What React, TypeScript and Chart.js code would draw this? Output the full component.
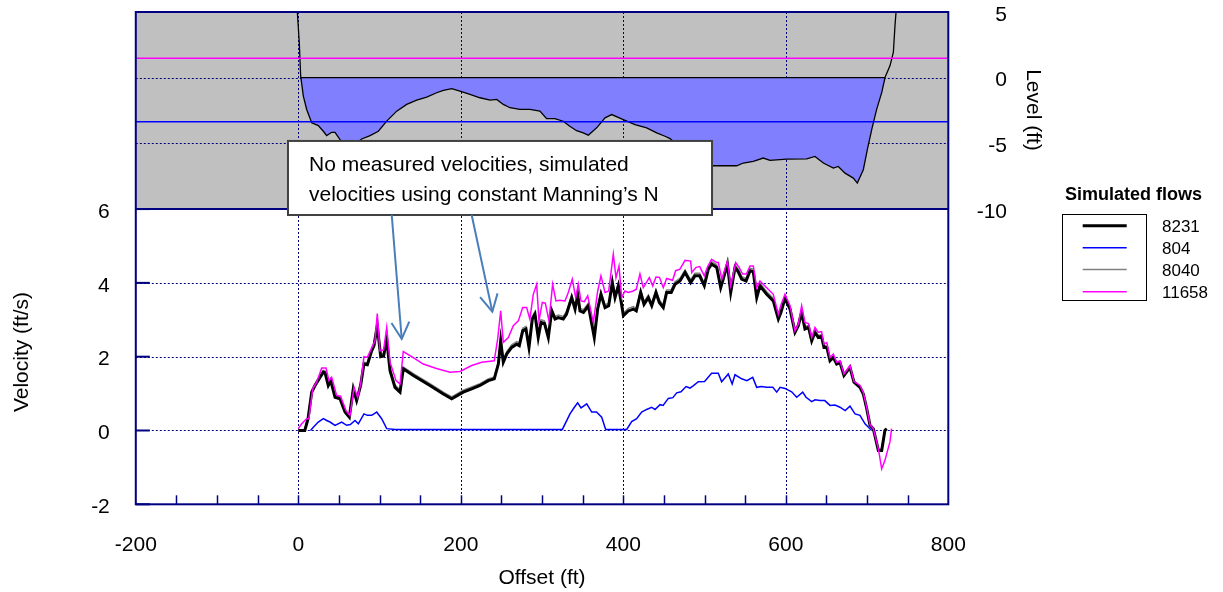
import React, { useEffect, useRef } from 'react';
import { Chart, registerables } from 'chart.js';

Chart.register(...registerables);

const FONT = '"Liberation Sans", Arial, Helvetica, sans-serif';
const NAVY = '#000080';

// ---- axes ----
const X_RANGE = [-200, 800];
const X_TICKS = [-200, 0, 200, 400, 600, 800];
const X_GRID = [0, 200, 400, 600];
const X_MINOR = [-150, -100, -50, 0, 50, 100, 150, 200, 250, 300, 350, 400, 450, 500, 550, 600, 650, 700, 750];
const VEL_RANGE = [-2, 11.34];
const VEL_TICKS = [-2, 0, 2, 4, 6];
const VEL_GRID = [0, 2, 4];
const LEVEL_RANGE = [-32.49, 5];
const LEVEL_TICKS = [-10, -5, 0, 5];
const LEVEL_GRID = [-5, 0];

// ---- velocity series (Offset ft, Velocity ft/s) ----
const X_8231 = [0, 8, 12, 16.5, 20.6, 26.7, 30.8, 33, 36.9, 39.9, 45.2, 51.3, 57.5, 62.8, 67.7, 71.8, 76.7, 80.8, 85, 90.3, 93.2, 97.2, 101.4, 105, 108.8, 112.9, 119, 125.2, 129.2, 141.6, 162, 178.5, 188.8, 203, 213.4, 223.6, 233.8, 241.2, 246.2, 249.1, 252.3, 256.5, 262.6, 268.7, 272, 276.2, 280.2, 283.9, 288, 291.3, 295.3, 298.7, 303, 307.7, 311.9, 316, 320, 326.1, 330, 336.5, 340.6, 343.8, 346.7, 351, 357, 364.3, 368.5, 372.5, 377.5, 382, 386.5, 389.8, 393.9, 397.2, 400.1, 406.2, 412.3, 416, 421.4, 425.5, 430.8, 435, 440.2, 444.3, 449.2, 453.3, 459, 463.6, 469.7, 476, 482.9, 488.2, 494, 499.7, 504.6, 508.7, 515, 519.9, 523, 528.1, 532.2, 537.5, 541.5, 545.7, 551.1, 556, 560, 564.2, 568.2, 576.5, 584.6, 590.8, 594, 599, 605.2, 611.3, 615.4, 619.5, 623.6, 628, 631.9, 635.9, 640, 644, 647, 650.5, 654.4, 658.5, 662.6, 666.7, 671.6, 679, 683.9, 691.3, 695.4, 699.6, 703.6, 707.7, 713.9, 718, 722, 724.1];
const V_8231 = [0, 0, 0.32, 1.04, 1.22, 1.44, 1.58, 1.56, 1.22, 1.35, 0.9, 0.86, 0.5, 0.36, 1.13, 0.81, 1.22, 1.8, 1.78, 2.16, 2.3, 2.84, 2.0, 2.02, 2.48, 1.62, 1.17, 1.04, 1.67, 1.49, 1.22, 0.99, 0.86, 1.04, 1.13, 1.22, 1.35, 1.4, 1.8, 2.43, 1.85, 2.07, 2.25, 2.34, 2.3, 2.7, 2.75, 2.25, 3.02, 3.15, 2.52, 2.93, 2.9, 2.52, 3.24, 3.02, 3.06, 3.02, 3.15, 3.6, 3.29, 3.69, 3.24, 3.2, 3.38, 2.52, 3.3, 3.69, 3.33, 3.38, 4.01, 3.6, 3.92, 3.51, 3.11, 3.24, 3.29, 3.24, 3.74, 3.42, 3.6, 3.38, 3.74, 3.47, 3.33, 3.74, 3.74, 3.96, 4.05, 4.28, 4.01, 4.19, 4.19, 3.92, 4.37, 4.51, 4.42, 3.87, 4.1, 4.51, 3.74, 4.42, 4.3, 4.1, 4.05, 4.33, 4.3, 3.6, 3.92, 3.69, 3.51, 3.02, 3.2, 3.58, 3.29, 2.66, 2.84, 3.2, 2.75, 2.8, 2.43, 2.66, 2.52, 2.55, 2.25, 2.25, 1.89, 1.98, 1.8, 1.84, 1.49, 1.71, 1.31, 1.17, 0.99, 0.59, 0.14, 0.05, -0.54, -0.54, 0, 0.05];
const V_8040 = [0.02, 0.02, 0.36, 1.08, 1.27, 1.49, 1.63, 1.61, 1.27, 1.4, 0.95, 0.9, 0.54, 0.4, 1.18, 0.85, 1.27, 1.85, 1.83, 2.21, 2.35, 2.9, 2.06, 2.08, 2.54, 1.68, 1.23, 1.1, 1.72, 1.54, 1.27, 1.04, 0.91, 1.09, 1.18, 1.27, 1.4, 1.45, 1.86, 2.5, 1.92, 2.14, 2.32, 2.41, 2.37, 2.77, 2.82, 2.32, 3.09, 3.22, 2.59, 3.0, 2.97, 2.59, 3.31, 3.09, 3.13, 3.09, 3.22, 3.67, 3.36, 3.76, 3.31, 3.27, 3.45, 2.59, 3.37, 3.76, 3.4, 3.45, 4.08, 3.67, 3.99, 3.58, 3.18, 3.31, 3.36, 3.31, 3.81, 3.49, 3.67, 3.45, 3.81, 3.54, 3.4, 3.81, 3.81, 4.03, 4.12, 4.35, 4.08, 4.26, 4.26, 3.99, 4.44, 4.58, 4.49, 3.94, 4.17, 4.58, 3.81, 4.49, 4.37, 4.17, 4.12, 4.4, 4.37, 3.67, 3.99, 3.76, 3.58, 3.09, 3.27, 3.64, 3.35, 2.72, 2.9, 3.26, 2.81, 2.85, 2.48, 2.71, 2.57, 2.6, 2.3, 2.29, 1.93, 2.02, 1.84, 1.87, 1.52, 1.74, 1.33, 1.19, 1.01, 0.61, 0.16, 0.06, -0.52, -0.5, 0.02, 0.06];
const X_11658 = [0, 4.2, 10.3, 13, 17.7, 22.6, 28.8, 34.1, 37.8, 41.1, 47.2, 52, 58.7, 63.6, 68.6, 73.1, 76.7, 80.8, 85, 91.6, 94.4, 97.2, 100.5, 105, 108.8, 112.9, 120.3, 125.2, 129.2, 141, 153.8, 170, 186.7, 199, 213.4, 225.7, 241.2, 245.4, 249.1, 252.3, 258.5, 264.6, 270.8, 276.2, 281, 285, 289.2, 293.4, 296.2, 300.3, 304, 308.5, 313, 317.1, 322, 328.2, 332.3, 337.2, 341.4, 344.6, 347.9, 352, 356.2, 363.1, 368.5, 372.5, 377.5, 382, 387.7, 391, 394.7, 398, 402, 406, 412.3, 416, 420.5, 424.6, 432, 436.2, 440.2, 444.5, 449.2, 453.3, 460.7, 464.4, 469.7, 476, 482.9, 484.2, 489.5, 494, 499.7, 503.4, 508.7, 515, 517, 521.2, 528.1, 532.2, 538.3, 542.5, 546.9, 551.5, 556, 560, 564.2, 568.2, 576.5, 584.6, 590.8, 594, 599, 605.2, 611.3, 615.4, 619.5, 623.6, 628, 631.9, 635.9, 640, 644, 647, 650.5, 654.4, 658.5, 662.6, 666.7, 671.6, 679, 683.9, 691.3, 695.4, 699.6, 703.6, 707.7, 713.9, 718, 722, 728.2, 730.2];
const V_11658 = [0.05, 0.18, 0.32, 0.32, 1.13, 1.31, 1.69, 1.69, 1.35, 1.44, 0.95, 0.93, 0.54, 0.41, 1.17, 0.9, 1.25, 2.0, 1.98, 2.3, 2.43, 3.17, 2.16, 2.18, 2.79, 1.85, 1.35, 1.26, 2.14, 1.98, 1.8, 1.68, 1.58, 1.6, 1.76, 1.85, 1.89, 2.48, 3.24, 2.39, 2.52, 2.84, 2.97, 3.33, 3.33, 3.02, 3.69, 3.96, 2.97, 3.47, 3.45, 2.97, 3.96, 3.51, 3.53, 3.51, 3.74, 4.1, 3.6, 3.96, 3.51, 3.49, 3.65, 2.93, 3.78, 4.19, 3.74, 3.78, 4.78, 4.14, 4.46, 3.6, 3.78, 3.74, 3.78, 3.83, 4.24, 3.87, 4.14, 3.92, 4.16, 4.15, 3.87, 4.12, 4.07, 4.33, 4.37, 4.61, 4.59, 4.28, 4.42, 4.44, 4.19, 4.42, 4.64, 4.55, 4.55, 4.1, 4.59, 3.92, 4.55, 4.42, 4.24, 4.24, 4.46, 4.46, 3.87, 4.05, 3.87, 3.69, 3.15, 3.4, 3.69, 3.38, 2.7, 2.88, 3.38, 2.93, 2.9, 2.52, 2.79, 2.66, 2.68, 2.34, 2.38, 1.98, 2.07, 1.85, 1.89, 1.53, 1.76, 1.33, 1.22, 1.03, 0.62, 0.16, 0.05, -0.49, -1.04, -0.81, -0.31, 0.05];
const X_804 = [15, 18.5, 24.6, 30.8, 35, 39, 45.2, 53.4, 59.5, 64, 69.8, 73.9, 80.8, 85, 90.3, 96.5, 102.6, 108.8, 120, 200, 280, 325, 334.4, 339.8, 343.8, 348, 355, 361.1, 367, 373.4, 378.3, 390, 404.2, 410.3, 416.4, 422.6, 428.7, 434.9, 439, 445.2, 449, 455.4, 461, 465.7, 471, 477.2, 482, 486, 492.3, 500, 508.7, 516.9, 521, 529.2, 534, 537.5, 545.7, 552, 559.3, 564.2, 570, 576.5, 584, 588.8, 593, 599, 607.2, 613.4, 620.8, 624.9, 631.9, 636, 642.1, 648, 654.4, 660.5, 666.7, 673, 679, 685.2, 691.3, 697.5, 701.7, 705.7];
const V_804 = [0, 0.09, 0.23, 0.32, 0.27, 0.23, 0.14, 0.23, 0.14, 0.16, 0.27, 0.18, 0.45, 0.41, 0.41, 0.5, 0.32, 0.05, 0.03, 0.03, 0.03, 0.03, 0.45, 0.63, 0.75, 0.61, 0.72, 0.5, 0.5, 0.36, 0.03, 0.03, 0.03, 0.24, 0.32, 0.5, 0.57, 0.63, 0.57, 0.7, 0.68, 0.87, 0.89, 1.02, 1.05, 1.19, 1.15, 1.21, 1.32, 1.33, 1.55, 1.55, 1.32, 1.53, 1.26, 1.51, 1.4, 1.35, 1.44, 1.17, 1.19, 1.17, 1.17, 1.04, 1.17, 1.14, 1.05, 0.9, 1.04, 0.9, 0.78, 0.83, 0.81, 0.81, 0.68, 0.69, 0.63, 0.54, 0.66, 0.45, 0.41, 0.18, 0.09, 0];

// ---- cross-section (Offset ft, Level ft) ----
const BED_X = [-1.6, -1.2, 1.2, 2.9, 6.2, 10.3, 16.5, 24.6, 30.8, 34.9, 41.1, 45.2, 51.3, 60, 70, 78, 88.3, 98.5, 108.8, 121.1, 133.4, 145.7, 158, 170.3, 178.5, 188.8, 199, 211.3, 223.6, 236, 244.2, 252.3, 260.5, 272.8, 285.1, 297.4, 305.6, 315.8, 326, 334.2, 342.5, 350.7, 356.9, 367.2, 377.5, 385.7, 400, 414.4, 428.8, 441.1, 451.3, 457.5, 470, 490, 505, 510.7, 539.5, 547.7, 560, 572.3, 580.5, 601, 625.7, 635.9, 646.2, 658.5, 664.6, 672.9, 683.1, 688, 695.4, 700.4, 705.8, 711.9, 718.1, 722.2, 728.3, 732.4, 734.4, 735.7, 736.5];
const BED_LEVEL = [6, 5, 2.68, 0.13, -1.4, -2.42, -3.44, -3.65, -4.08, -4.41, -4.16, -4.16, -4.72, -5.15, -5.05, -4.67, -4.41, -4.08, -3.31, -2.55, -2.04, -1.71, -1.48, -1.15, -0.97, -0.84, -1.03, -1.28, -1.53, -1.71, -1.66, -2.04, -2.29, -2.42, -2.42, -2.55, -3.12, -3.12, -3.32, -3.7, -4.04, -4.21, -4.38, -3.82, -3.06, -2.81, -3.19, -3.57, -3.82, -4.21, -4.46, -4.64, -5.3, -6.1, -6.6, -6.71, -6.71, -6.5, -6.38, -6.12, -6.3, -6.2, -6.18, -6.0, -6.5, -6.89, -6.76, -7.27, -7.65, -8.03, -7.01, -5.47, -3.94, -2.4, -1.12, 0.03, 0.92, 1.94, 3.98, 5, 6];
const WATER_X = [2.9, 722.2];
const WATER_LEVEL = [0, 0];
const STAGE_X = [-200, 800];
const STAGE_11658 = [1.48, 1.48];
const STAGE_804 = [-3.36, -3.36];

// ---- text ----
const FLOW_LABELS = ['8231', '804', '8040', '11658'];
const FLOW_COLORS = ['#000000', '#0000FF', '#808080', '#FF00FF'];
const FLOW_WIDTHS = [3, 1.5, 1.5, 1.5];
const LEGEND_TITLE = 'Simulated flows';
const X_TITLE = 'Offset (ft)';
const Y_TITLE = 'Velocity (ft/s)';
const Y2_TITLE = 'Level (ft)';
const NOTE_LINES = ['No measured velocities, simulated', 'velocities using constant Manning\u2019s N'];
// note box corners (Offset ft, Level ft); arrow tips (Offset ft, Velocity ft/s)
const NOTE_BOX = { x0: -12.7, x1: 509.2, top: -4.82, bottom: -10.46 };
const ARROW_TAIL_X = [115, 213.4];
const ARROW_TIP_X = [127.3, 238.8];
const ARROW_TIP_V = [2.48, 3.22];

const pts = (xs: number[], ys: number[]) => xs.map((x, i) => ({ x, y: ys[i] }));

const seg = (ctx: CanvasRenderingContext2D, x1: number, y1: number, x2: number, y2: number) => {
  ctx.beginPath();
  ctx.moveTo(x1, y1);
  ctx.lineTo(x2, y2);
  ctx.stroke();
};

const decorPlugin = {
  id: 'decor',
  beforeDraw(chart: any) {
    const { ctx, chartArea: a, scales } = chart;
    const yTop = scales.y2.getPixelForValue(LEVEL_TICKS[LEVEL_TICKS.length - 1]);
    const yBot = scales.y2.getPixelForValue(LEVEL_TICKS[0]);
    ctx.save();
    ctx.fillStyle = '#C0C0C0';
    ctx.fillRect(a.left, yTop, a.right - a.left, yBot - yTop);
    ctx.restore();
  },
  beforeDatasetsDraw(chart: any) {
    const { ctx, chartArea: a, scales } = chart;
    ctx.save();
    ctx.strokeStyle = NAVY;
    ctx.lineWidth = 1;
    ctx.setLineDash([2, 2]);
    ctx.beginPath();
    for (const v of X_GRID) {
      const x = Math.round(scales.x.getPixelForValue(v)) + 0.5;
      ctx.moveTo(x, a.top);
      ctx.lineTo(x, a.bottom);
    }
    for (const v of VEL_GRID) {
      const y = Math.round(scales.y.getPixelForValue(v)) + 0.5;
      ctx.moveTo(a.left, y);
      ctx.lineTo(a.right, y);
    }
    for (const v of LEVEL_GRID) {
      const y = Math.round(scales.y2.getPixelForValue(v)) + 0.5;
      ctx.moveTo(a.left, y);
      ctx.lineTo(a.right, y);
    }
    ctx.stroke();
    ctx.restore();
  },
  afterDraw(chart: any) {
    const { ctx, chartArea: a, scales } = chart;
    ctx.save();
    ctx.setLineDash([]);
    // frame and band boundary
    ctx.strokeStyle = NAVY;
    ctx.lineWidth = 2;
    ctx.strokeRect(a.left, a.top, a.right - a.left, a.bottom - a.top);
    const yBand = scales.y.getPixelForValue(VEL_TICKS[VEL_TICKS.length - 1]);
    seg(ctx, a.left, yBand, a.right, yBand);
    // inner ticks
    for (const v of VEL_TICKS) {
      const y = scales.y.getPixelForValue(v);
      seg(ctx, a.left, y, a.left + 14, y);
    }
    ctx.lineWidth = 1.5;
    for (const v of X_MINOR) {
      const x = Math.round(scales.x.getPixelForValue(v)) + 0.5;
      seg(ctx, x, a.bottom, x, a.bottom - 9);
    }

    // axis titles
    ctx.fillStyle = '#000';
    ctx.font = `21px ${FONT}`;
    ctx.textAlign = 'center';
    ctx.textBaseline = 'middle';
    ctx.fillText(X_TITLE, (a.left + a.right) / 2, 578);
    ctx.save();
    ctx.translate(22.5, 352);
    ctx.rotate(-Math.PI / 2);
    ctx.fillText(Y_TITLE, 0, 0);
    ctx.restore();
    ctx.save();
    ctx.translate(1033, 110);
    ctx.rotate(Math.PI / 2);
    ctx.fillText(Y2_TITLE, 0, 0);
    ctx.restore();

    // legend
    ctx.font = `bold 18px ${FONT}`;
    ctx.fillText(LEGEND_TITLE, 1133.5, 195);
    ctx.strokeStyle = '#000';
    ctx.lineWidth = 1;
    ctx.strokeRect(1062.5, 214.5, 84, 86);
    ctx.font = `17px ${FONT}`;
    ctx.textAlign = 'left';
    const rows = [225.7, 247.7, 269.5, 291.7];
    FLOW_LABELS.forEach((lab, i) => {
      ctx.strokeStyle = FLOW_COLORS[i];
      ctx.lineWidth = FLOW_WIDTHS[i];
      seg(ctx, 1082.7, rows[i], 1126.7, rows[i]);
      ctx.fillStyle = '#000';
      ctx.fillText(lab, 1162, rows[i] + 1.5);
    });

    // note box
    const bx0 = scales.x.getPixelForValue(NOTE_BOX.x0);
    const bx1 = scales.x.getPixelForValue(NOTE_BOX.x1);
    const by0 = scales.y2.getPixelForValue(NOTE_BOX.top);
    const by1 = scales.y2.getPixelForValue(NOTE_BOX.bottom);
    ctx.fillStyle = '#FFFFFF';
    ctx.fillRect(bx0, by0, bx1 - bx0, by1 - by0);
    ctx.strokeStyle = '#404040';
    ctx.lineWidth = 2;
    ctx.strokeRect(bx0, by0, bx1 - bx0, by1 - by0);
    ctx.fillStyle = '#000';
    ctx.font = `21px ${FONT}`;
    ctx.textAlign = 'left';
    ctx.textBaseline = 'alphabetic';
    ctx.fillText(NOTE_LINES[0], bx0 + 21, by0 + 30);
    ctx.fillText(NOTE_LINES[1], bx0 + 21, by0 + 60);

    // arrows
    ctx.strokeStyle = '#4A7EBB';
    ctx.lineWidth = 2;
    ARROW_TAIL_X.forEach((tx, i) => {
      const x1 = scales.x.getPixelForValue(tx);
      const y1 = by1;
      const x2 = scales.x.getPixelForValue(ARROW_TIP_X[i]);
      const y2 = scales.y.getPixelForValue(ARROW_TIP_V[i]);
      seg(ctx, x1, y1, x2, y2);
      const ang = Math.atan2(y2 - y1, x2 - x1);
      const hl = 19;
      const ha = (28 * Math.PI) / 180;
      ctx.beginPath();
      ctx.moveTo(x2 - hl * Math.cos(ang - ha), y2 - hl * Math.sin(ang - ha));
      ctx.lineTo(x2, y2);
      ctx.lineTo(x2 - hl * Math.cos(ang + ha), y2 - hl * Math.sin(ang + ha));
      ctx.stroke();
    });
    ctx.restore();
  },
};

export default function App() {
  const ref = useRef<HTMLCanvasElement>(null);

  useEffect(() => {
    const canvas = ref.current;
    if (!canvas) return;
    const line = (extra: any) => ({
      pointRadius: 0,
      pointHoverRadius: 0,
      tension: 0,
      fill: false,
      ...extra,
    });
    const tickFont = { family: FONT, size: 21 };
    const chart = new Chart(canvas, {
      type: 'line',
      data: {
        datasets: [
          line({ label: 'bed', data: pts(BED_X, BED_LEVEL), yAxisID: 'y2', borderColor: '#000', borderWidth: 1.3,
            fill: { target: { value: 0 }, above: 'rgba(0,0,0,0)', below: '#8080FF' }, order: 10 }),
          line({ label: 'stage 804', data: pts(STAGE_X, STAGE_804), yAxisID: 'y2', borderColor: '#0000FF', borderWidth: 1.5, order: 9 }),
          line({ label: 'stage 11658', data: pts(STAGE_X, STAGE_11658), yAxisID: 'y2', borderColor: '#FF00FF', borderWidth: 1.5, order: 8 }),
          line({ label: 'water 8231', data: pts(WATER_X, WATER_LEVEL), yAxisID: 'y2', borderColor: '#000', borderWidth: 1.3, order: 7 }),
          line({ label: FLOW_LABELS[2], data: pts(X_8231, V_8040), yAxisID: 'y', borderColor: FLOW_COLORS[2], borderWidth: FLOW_WIDTHS[2], order: 6 }),
          line({ label: FLOW_LABELS[0], data: pts(X_8231, V_8231), yAxisID: 'y', borderColor: FLOW_COLORS[0], borderWidth: FLOW_WIDTHS[0], order: 5 }),
          line({ label: FLOW_LABELS[1], data: pts(X_804, V_804), yAxisID: 'y', borderColor: FLOW_COLORS[1], borderWidth: FLOW_WIDTHS[1], order: 4 }),
          line({ label: FLOW_LABELS[3], data: pts(X_11658, V_11658), yAxisID: 'y', borderColor: FLOW_COLORS[3], borderWidth: FLOW_WIDTHS[3], order: 3 }),
        ],
      },
      options: {
        animation: false,
        responsive: false,
        maintainAspectRatio: false,
        devicePixelRatio: 1,
        events: [],
        layout: { padding: { left: 0, top: 12, right: 216, bottom: 0 } },
        plugins: { legend: { display: false }, tooltip: { enabled: false }, title: { display: false } },
        scales: {
          x: {
            type: 'linear',
            min: X_RANGE[0],
            max: X_RANGE[1],
            afterBuildTicks: (s: any) => { s.ticks = X_TICKS.map((value) => ({ value })); },
            afterFit: (s: any) => { s.height = 87.7; s.paddingLeft = 0; s.paddingRight = 0; },
            grid: { display: false, drawTicks: false },
            border: { display: false },
            ticks: { font: tickFont, color: '#000', padding: 28, maxRotation: 0, autoSkip: false, callback: (v: any) => String(v) },
          },
          y: {
            type: 'linear',
            position: 'left',
            min: VEL_RANGE[0],
            max: VEL_RANGE[1],
            afterBuildTicks: (s: any) => { s.ticks = VEL_TICKS.map((value) => ({ value })); },
            afterFit: (s: any) => { s.width = 135.8; s.paddingTop = 0; s.paddingBottom = 0; },
            grid: { display: false, drawTicks: false },
            border: { display: false },
            ticks: { font: tickFont, color: '#000', padding: 26, labelOffset: 3, autoSkip: false, callback: (v: any) => String(v) },
          },
          y2: {
            type: 'linear',
            position: 'right',
            min: LEVEL_RANGE[0],
            max: LEVEL_RANGE[1],
            afterBuildTicks: (s: any) => { s.ticks = LEVEL_TICKS.map((value) => ({ value })); },
            afterFit: (s: any) => { s.width = 58.7; s.paddingTop = 0; s.paddingBottom = 0; },
            grid: { display: false, drawTicks: false },
            border: { display: false },
            ticks: { font: tickFont, color: '#000', padding: 0, crossAlign: 'far', labelOffset: 3, autoSkip: false, callback: (v: any) => String(v) },
          },
        },
      } as any,
      plugins: [decorPlugin],
    });
    return () => chart.destroy();
  }, []);

  return (
    <canvas
      ref={ref}
      width={1223}
      height={592}
      style={{ position: 'absolute', left: 0, top: 0, display: 'block' }}
    />
  );
}
